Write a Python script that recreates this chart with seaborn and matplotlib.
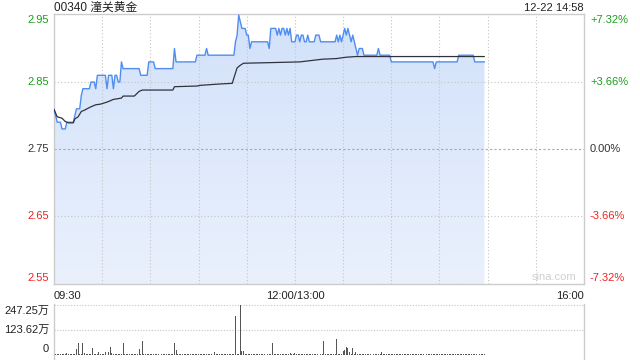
import numpy as np
import pandas as pd
import matplotlib
matplotlib.use("Agg")
import matplotlib.pyplot as plt
import seaborn as sns
from matplotlib.colors import LinearSegmentedColormap
from matplotlib.transforms import blended_transform_factory, offset_copy

# ---------------- data ----------------
title_code = "00340"
title_name = "潼关黄金"
timestamp = "12-22 14:58"

# price per minute from 09:30 (minute index 0), rows of 30 minutes
price = [
    2.81, 2.80, 2.79, 2.79, 2.79, 2.78, 2.78, 2.78, 2.79, 2.79,
    2.79, 2.79, 2.79, 2.80, 2.81, 2.81, 2.81, 2.83, 2.84, 2.84,
    2.84, 2.84, 2.84, 2.85, 2.85, 2.85, 2.84, 2.86, 2.86, 2.86,
    2.86, 2.86, 2.86, 2.84, 2.86, 2.86, 2.86, 2.84, 2.86, 2.86,
    2.85, 2.85, 2.88, 2.87, 2.87, 2.87, 2.87, 2.87, 2.87, 2.87,
    2.87, 2.87, 2.87, 2.87, 2.86, 2.86, 2.86, 2.86, 2.86, 2.88,
    2.88, 2.88, 2.88, 2.87, 2.87, 2.87, 2.87, 2.87, 2.87, 2.87,
    2.87, 2.87, 2.87, 2.87, 2.87, 2.90, 2.88, 2.88, 2.88, 2.88,
    2.88, 2.88, 2.88, 2.88, 2.88, 2.88, 2.88, 2.88, 2.88, 2.89,
    2.89, 2.89, 2.89, 2.89, 2.89, 2.90, 2.89, 2.89, 2.89, 2.89,
    2.89, 2.89, 2.89, 2.89, 2.89, 2.89, 2.89, 2.89, 2.89, 2.89,
    2.89, 2.89, 2.89, 2.91, 2.92, 2.95, 2.94, 2.93, 2.93, 2.93,
    2.92, 2.92, 2.90, 2.91, 2.91, 2.91, 2.91, 2.91, 2.91, 2.91,
    2.91, 2.91, 2.91, 2.91, 2.90, 2.93, 2.93, 2.93, 2.93, 2.92,
    2.93, 2.92, 2.93, 2.93, 2.92, 2.93, 2.92, 2.93, 2.91, 2.91,
    2.91, 2.92, 2.92, 2.91, 2.92, 2.92, 2.91, 2.91, 2.92, 2.91,
    2.91, 2.91, 2.91, 2.92, 2.92, 2.92, 2.91, 2.91, 2.91, 2.91,
    2.91, 2.91, 2.91, 2.91, 2.91, 2.91, 2.92, 2.91, 2.92, 2.91,
    2.92, 2.93, 2.92, 2.93, 2.92, 2.91, 2.92, 2.91, 2.90, 2.89,
    2.90, 2.90, 2.90, 2.89, 2.89, 2.89, 2.89, 2.89, 2.89, 2.89,
    2.89, 2.89, 2.90, 2.89, 2.89, 2.89, 2.89, 2.89, 2.89, 2.89,
    2.88, 2.88, 2.88, 2.88, 2.88, 2.88, 2.88, 2.88, 2.88, 2.88,
    2.88, 2.88, 2.88, 2.88, 2.88, 2.88, 2.88, 2.88, 2.88, 2.88,
    2.88, 2.88, 2.88, 2.88, 2.88, 2.88, 2.88, 2.87, 2.88, 2.88,
    2.88, 2.88, 2.88, 2.88, 2.88, 2.88, 2.88, 2.88, 2.88, 2.88,
    2.88, 2.88, 2.89, 2.89, 2.89, 2.89, 2.89, 2.89, 2.89, 2.89,
    2.89, 2.89, 2.88, 2.88, 2.88, 2.88, 2.88, 2.88, 2.88,
]

# average price line, read at its turning points (minute, value)
avg_minute = [0, 2, 5, 7, 9, 12, 13, 15, 17, 19, 23, 26, 29, 33, 37, 42, 43, 50,
              53, 55, 74, 75, 89, 91, 103, 111, 112, 114, 116, 118, 136, 153,
              167, 176, 182, 188, 268]
avg_value = [2.809, 2.798, 2.796, 2.791, 2.789, 2.789, 2.795, 2.798, 2.806, 2.808,
             2.813, 2.816, 2.817, 2.820, 2.824, 2.826, 2.829, 2.829, 2.836, 2.838,
             2.838, 2.843, 2.844, 2.845, 2.847, 2.848, 2.856, 2.871, 2.875, 2.878,
             2.879, 2.880, 2.884, 2.885, 2.887, 2.888, 2.888]

# volume per minute, in 万 shares
volume = [
    5, 3, 3, 4, 3, 3, 4, 3, 8, 4, 3, 4, 5, 6, 32, 60, 5, 4, 60, 8,
    6, 4, 5, 5, 33, 4, 3, 5, 15, 4,
    4, 3, 15, 8, 15, 40, 12, 4, 5, 3, 4, 3, 4, 57, 5, 3, 4, 3, 4, 3,
    5, 4, 3, 30, 5, 70, 5, 4, 3, 4,
    4, 3, 5, 3, 4, 3, 4, 3, 5, 4, 3, 4, 3, 4, 5, 57, 25, 4, 3, 4,
    3, 5, 4, 3, 4, 3, 4, 5, 3, 4,
    3, 4, 3, 5, 4, 3, 4, 3, 4, 5, 15, 4, 3, 4, 3, 5, 4, 3, 4, 3,
    4, 5, 4, 195, 6, 5, 247.25, 20, 20, 6,
    5, 4, 3, 4, 3, 4, 5, 3, 4, 3, 4, 3, 4, 3, 5, 4, 57, 4, 3, 4,
    3, 4, 3, 4, 5, 4, 6, 12, 4, 3,
    10, 4, 3, 4, 3, 4, 5, 3, 4, 3, 4, 3, 4, 3, 4, 5, 4, 3, 70, 4,
    3, 4, 3, 4, 5, 4, 80, 4, 3, 4,
    22, 27, 38, 33, 17, 5, 33, 4, 13, 4, 3, 4, 3, 4, 5, 3, 4, 3, 4, 3,
    4, 3, 4, 3, 13, 4, 3, 4, 3, 4,
    3, 4, 3, 4, 3, 4, 5, 3, 4, 3, 4, 3, 4, 3, 4, 3, 4, 5, 3, 4,
    3, 4, 3, 4, 3, 4, 3, 4, 5, 3,
    4, 3, 4, 3, 4, 3, 4, 3, 4, 5, 3, 4, 3, 4, 3, 4, 3, 4, 3, 4,
    3, 4, 3, 4, 3, 4, 3, 4, 3,
]

price_ticks = [2.55, 2.65, 2.75, 2.85, 2.95]
price_tick_labels = ["2.55", "2.65", "2.75", "2.85", "2.95"]
pct_labels = ["-7.32%", "-3.66%", "0.00%", "+3.66%", "+7.32%"]
time_positions = [0, 150, 330]
time_labels = ["09:30", "12:00/13:00", "16:00"]
vol_ticks = [0, 123.62, 247.25]
vol_tick_labels = ["0", "123.62万", "247.25万"]

# ---------------- style ----------------
sns.set_theme(style="white")
plt.rcParams['font.family'] = ['Liberation Sans', 'Noto Sans CJK SC', 'DejaVu Sans']

GREEN = "#1a9e1a"
RED = "#ee2222"
DARK = "#333333"
BLUE = "#4f8ef0"
label_colors = [RED, RED, DARK, GREEN, GREEN]
edge_shift_px = [5, 0, 0, 0, -5]   # end labels are kept inside the panel

fig = plt.figure(figsize=(6.4, 3.6), dpi=100)
W, H = 640.0, 360.0
ax = fig.add_axes([54 / W, 1 - 284 / H, 530 / W, 270 / H])
axv = fig.add_axes([54 / W, 0, 530 / W, 56 / H])

YMIN, YMAX = 2.5485, 2.9515
ax.set_xlim(0, 330)
ax.set_ylim(YMIN, YMAX)

df = pd.DataFrame({"minute": np.arange(len(price)), "price": price})
dfa = pd.DataFrame({"minute": avg_minute, "avg": avg_value})

# gradient fill below price line
poly = ax.fill_between(df["minute"], df["price"], YMIN, color="none", lw=0)
grad = np.linspace(0, 1, 256).reshape(-1, 1)
cmap = LinearSegmentedColormap.from_list("g", ["#eaf1fd", "#d2e1fa"])
im = ax.imshow(grad, extent=[0, len(price) - 1, YMIN, YMAX], origin="lower",
               aspect="auto", cmap=cmap, zorder=1)
im.set_clip_path(poly.get_paths()[0], transform=ax.transData)

# grid (drawn over the fill)
for m in range(30, 330, 30):
    ax.axvline(m, color="#c4c4c4", lw=0.8, ls=(0, (1, 2)), zorder=2)
for p in [2.65, 2.85]:
    ax.axhline(p, color="#c4c4c4", lw=0.8, ls=(0, (1, 2)), zorder=2)
ax.axhline(2.75, color="#a8a8a8", lw=0.8, ls=(0, (2, 2)), zorder=2)

sns.lineplot(data=df, x="minute", y="price", ax=ax, color=BLUE, lw=1.0,
             zorder=3, legend=False)
sns.lineplot(data=dfa, x="minute", y="avg", ax=ax, color="#2f3340", lw=0.9,
             zorder=4, legend=False)

for s in ax.spines.values():
    s.set_color("#cccccc")
    s.set_linewidth(1.0)
ax.set_xlabel("")
ax.set_ylabel("")
ax.set_xticks([])
ax.set_yticks([])

tr = blended_transform_factory(ax.transAxes, ax.transData)
for p, t, pc, c, d in zip(price_ticks, price_tick_labels, pct_labels,
                          label_colors, edge_shift_px):
    trd = offset_copy(tr, fig=fig, y=d * 0.72, units="points")
    ax.text(-5 / 530, p, t, transform=trd, ha="right", va="center",
            fontsize=8, color=c)
    ax.text(1 + 6 / 530, p, pc, transform=trd, ha="left", va="center",
            fontsize=8, color=c)

# time labels
trx = blended_transform_factory(ax.transData, fig.transFigure)
for pos, t, a in zip(time_positions, time_labels, ["left", "center", "right"]):
    ax.text(pos, 1 - 296 / H, t, transform=trx, ha=a, va="center",
            fontsize=8, color="#222222")

ax.text(0.985, 0.008, "sina.com", transform=ax.transAxes, ha="right",
        va="bottom", fontsize=8, color="#d0d0d0")

fig.text(54 / W, 1 - 8 / H, f"{title_code} {title_name}", ha="left",
         va="center", fontsize=8.5, color="#222222")
fig.text(584 / W, 1 - 8 / H, timestamp, ha="right", va="center",
         fontsize=8, color="#222222")

# volume panel
axv.set_xlim(0, 330)
axv.set_ylim(-24.7, 252.2)
axv.bar(np.arange(len(volume)), volume, width=0.6, color="#555555", lw=0,
        zorder=3)
for v in [123.62, 247.25]:
    axv.axhline(v, color="#c4c4c4", lw=0.8, ls=(0, (1, 1.5)), zorder=0.5)
for side in ["top", "bottom"]:
    axv.spines[side].set_visible(False)
for side in ["left", "right"]:
    axv.spines[side].set_color("#cccccc")
    axv.spines[side].set_linewidth(1.0)
axv.set_xticks([])
axv.set_yticks([])
axv.set_facecolor("white")
trv = blended_transform_factory(axv.transAxes, axv.transData)
for v, t, d in zip(vol_ticks, vol_tick_labels, [6, 0, -6]):
    trd = offset_copy(trv, fig=fig, y=d * 0.72, units="points")
    axv.text(-5 / 530, v, t, transform=trd, ha="right", va="center",
             fontsize=8, color="#222222")

fig.savefig("out.png", dpi=100)
